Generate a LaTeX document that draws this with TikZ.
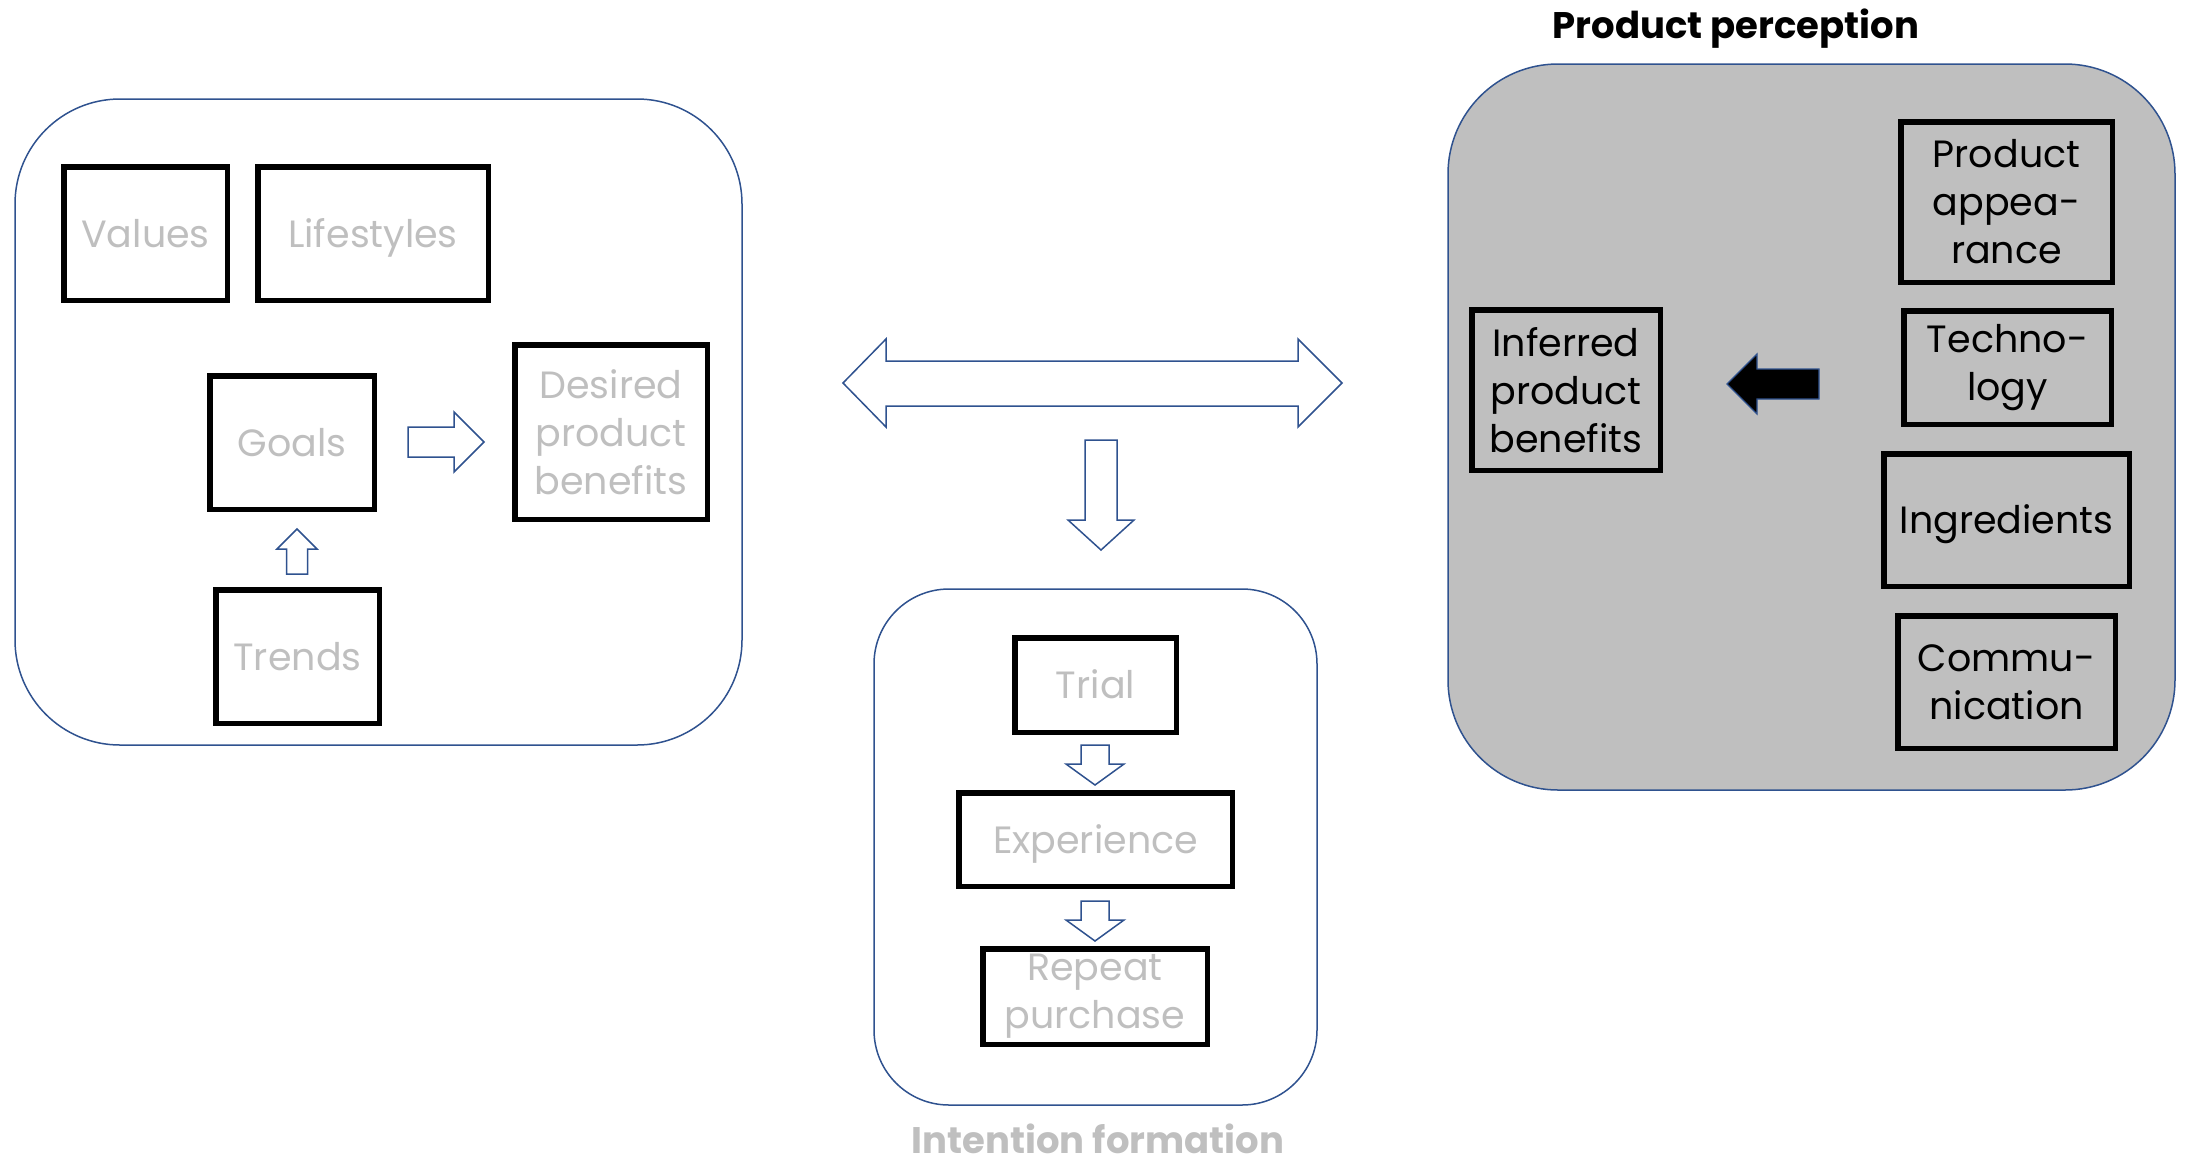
\documentclass[tikz,border=0pt]{standalone}
\usepackage{fontspec}
\setmainfont{Poppins}
\definecolor{outblue}{RGB}{47,82,143}
\definecolor{txtgray}{RGB}{191,191,191}
\definecolor{panelgray}{RGB}{191,191,191}
\begin{document}
\begin{tikzpicture}[x=1pt,y=-1pt,
  container/.style={draw=outblue,line width=1.5pt},
  boxnode/.style={draw=black,line width=5.5pt,rectangle,inner sep=0pt,align=center,
     font=\fontsize{38}{48}\selectfont},
  oneline/.style={text height=27pt,text depth=0pt},
  graytext/.style={text=txtgray},
  blacktext/.style={text=black},
  hollowarrow/.style={draw=outblue,line width=1.5pt,fill=white,line join=miter},
  solidarrow/.style={draw=outblue,line width=1.2pt,fill=black},
  titletext/.style={font=\fontsize{37}{40}\selectfont\bfseries,inner sep=0pt,text height=26pt,text depth=0pt}
]
\useasboundingbox (0,0) rectangle (2188,1163);

% containers
\draw[container,rounded corners=105pt] (15,99) rectangle (742,745);
\draw[container,rounded corners=75pt] (874,589) rectangle (1317,1105);
\draw[container,fill=panelgray,rounded corners=110pt] (1448,64) rectangle (2175,790);

% titles
\node[titletext,text=black] (ttlpp) at (1736,25) {Product perception};
\node[titletext,text=txtgray] (ttlif) at (1098,1140) {Intention formation};

% left group
\node[boxnode,oneline,graytext,minimum width=163.5pt,minimum height=133.5pt] (values) at (145.5,233.5) {Values};
\node[boxnode,oneline,graytext,minimum width=230.5pt,minimum height=133.5pt] (life) at (373,233.5) {Lifestyles};
\node[boxnode,oneline,graytext,minimum width=164.5pt,minimum height=133.5pt] (goals) at (292,442.5) {Goals};
\node[boxnode,graytext,minimum width=192.5pt,minimum height=174.5pt] (desired) at (611,432) {Desired\\product\\benefits};
\node[boxnode,oneline,graytext,minimum width=163.5pt,minimum height=133.5pt] (trends) at (297.5,656.5) {Trends};

% middle group
\node[boxnode,oneline,graytext,minimum width=161.5pt,minimum height=94.5pt] (trial) at (1095.5,685) {Trial};
\node[boxnode,oneline,graytext,minimum width=273.5pt,minimum height=93.5pt] (exper) at (1095.5,839.5) {Experience};
\node[boxnode,graytext,minimum width=224.5pt,minimum height=95.5pt] (repeat) at (1095,996.5) {Repeat\\purchase};

% right group
\node[boxnode,blacktext,minimum width=188.5pt,minimum height=160.5pt] (inferred) at (1566,390) {Inferred\\product\\benefits};
\node[boxnode,blacktext,minimum width=211.5pt,minimum height=160.5pt] (appear) at (2006.5,202) {Product\\appea-\\rance};
\node[boxnode,blacktext,minimum width=207.5pt,minimum height=113.5pt] (techno) at (2007.5,367.5) {Techno-\\logy};
\node[boxnode,oneline,blacktext,minimum width=245.5pt,minimum height=132.5pt] (ingred) at (2006.5,520) {Ingredients};
\node[boxnode,blacktext,minimum width=217.5pt,minimum height=132.5pt] (commun) at (2006.5,682) {Commu-\\nication};

% block arrows
% Goals -> Desired
\draw[hollowarrow] (408,427) -- (454,427) -- (454,412) -- (484,442) -- (454,472) -- (454,457) -- (408,457) -- cycle;
% Trends -> Goals
\draw[hollowarrow] (286.5,574) -- (286.5,549) -- (277,549) -- (297,529) -- (317,549) -- (307.5,549) -- (307.5,574) -- cycle;
% double arrow
\draw[hollowarrow] (843,383) -- (886,339) -- (886,361) -- (1298,361) -- (1298,339) -- (1342,383)
  -- (1298,427) -- (1298,406) -- (886,406) -- (886,427) -- cycle;
% big down arrow
\draw[hollowarrow] (1085,440) -- (1117,440) -- (1117,520) -- (1134,520) -- (1101,550) -- (1068,520) -- (1085,520) -- cycle;
% Trial -> Experience
\draw[hollowarrow] (1081,745) -- (1109,745) -- (1109,764) -- (1124,764) -- (1095,785) -- (1066,764) -- (1081,764) -- cycle;
% Experience -> Repeat
\draw[hollowarrow] (1081,901) -- (1109,901) -- (1109,920) -- (1124,920) -- (1095,941) -- (1066,920) -- (1081,920) -- cycle;
% black arrow
\draw[solidarrow] (1819,369) -- (1757,369) -- (1757,354) -- (1727,384) -- (1757,414) -- (1757,399) -- (1819,399) -- cycle;
\end{tikzpicture}
\end{document}
